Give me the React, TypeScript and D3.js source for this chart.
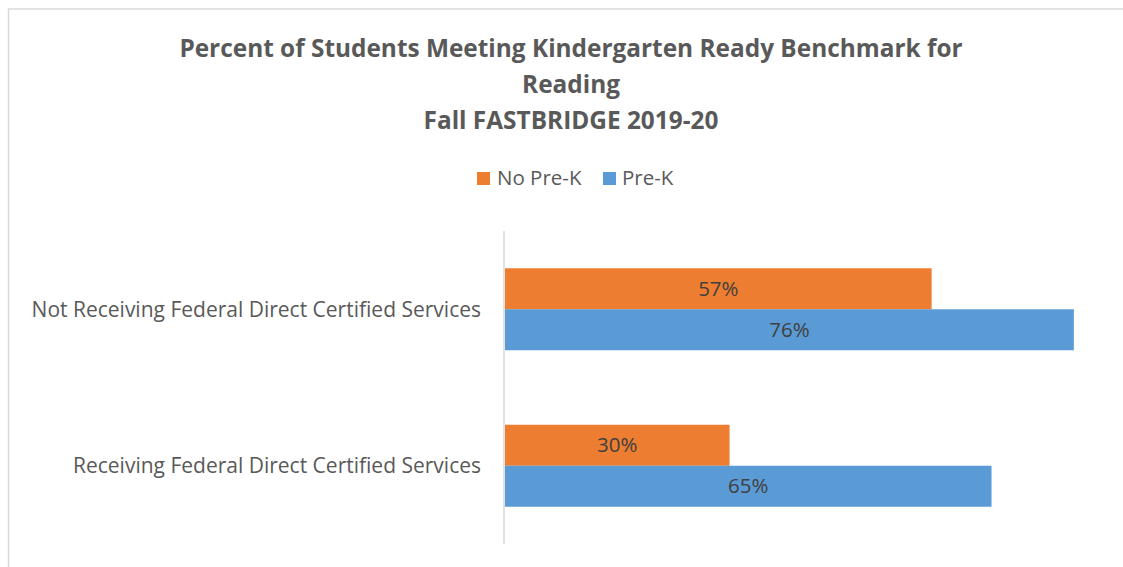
import React from "react";
import * as d3 from "d3";

const categories = [
  "Not Receiving Federal Direct Certified Services",
  "Receiving Federal Direct Certified Services",
];
const seriesNames = ["No Pre-K", "Pre-K"];
const noPreK = [0.57, 0.3];
const preK = [0.76, 0.65];
const seriesColors = ["#ED7D31", "#5B9BD5"];
const titleLines = [
  "Percent of Students Meeting Kindergarten Ready Benchmark for",
  "Reading",
  "Fall FASTBRIDGE 2019-20",
];

const W = 1123;
const H = 567;
const FONT = "'Open Sans', 'DejaVu Sans', sans-serif";

export default function App() {
  const x = d3.scaleLinear().domain([0, 1]).range([505, 1253.5]);
  const y0 = d3.scaleBand<string>().domain(categories).range([231, 544]).paddingInner(0.476).paddingOuter(0.238);
  const y1 = d3.scaleBand<string>().domain(seriesNames).range([0, y0.bandwidth()]);
  const series = [noPreK, preK];

  return (
    <svg width={W} height={H} style={{ position: "absolute", left: 0, top: 0, background: "#fff" }}>
      <text x={20} y={-3} textAnchor="end" fontFamily={FONT} fontStyle="italic" fontSize={17} fill="#44546A">
        Figure 7
      </text>
      <rect x={8.5} y={9} width={1300} height={700} fill="none" stroke="#D9D9D9" strokeWidth={1.5} />
      {titleLines.map((t, i) => (
        <text key={i} x={571} y={57 + i * 36} textAnchor="middle" fontFamily={FONT} fontWeight="bold" fontSize={24.4} fill="#595959">
          {t}
        </text>
      ))}
      {/* legend */}
      <g fontFamily={FONT} fontSize={20.5} fill="#595959">
        <rect x={477} y={172} width={13} height={13} fill={seriesColors[0]} />
        <text x={497} y={185}>{seriesNames[0]}</text>
        <rect x={603} y={172} width={13} height={13} fill={seriesColors[1]} />
        <text x={622} y={185}>{seriesNames[1]}</text>
      </g>
      {/* axis line */}
      <line x1={504} x2={504} y1={231} y2={544} stroke="#D9D9D9" strokeWidth={1.5} />
      {categories.map((c, ci) => (
        <g key={c}>
          <text
            x={481}
            y={(y0(c) as number) + y0.bandwidth() / 2}
            dy="0.35em"
            textAnchor="end"
            fontFamily={FONT}
            fontSize={21}
            fill="#595959"
          >
            {c}
          </text>
          {series.map((vals, si) => {
            const yy = (y0(c) as number) + (y1(seriesNames[si]) as number);
            const w = x(vals[ci]) - x(0);
            return (
              <g key={si}>
                <rect x={x(0)} y={yy} width={w} height={y1.bandwidth()} fill={seriesColors[si]} />
                <text
                  x={x(0) + w / 2}
                  y={yy + y1.bandwidth() / 2}
                  dy="0.35em"
                  textAnchor="middle"
                  fontFamily={FONT}
                  fontSize={20.5}
                  fill="#404040"
                >
                  {d3.format(".0%")(vals[ci])}
                </text>
              </g>
            );
          })}
        </g>
      ))}
    </svg>
  );
}
